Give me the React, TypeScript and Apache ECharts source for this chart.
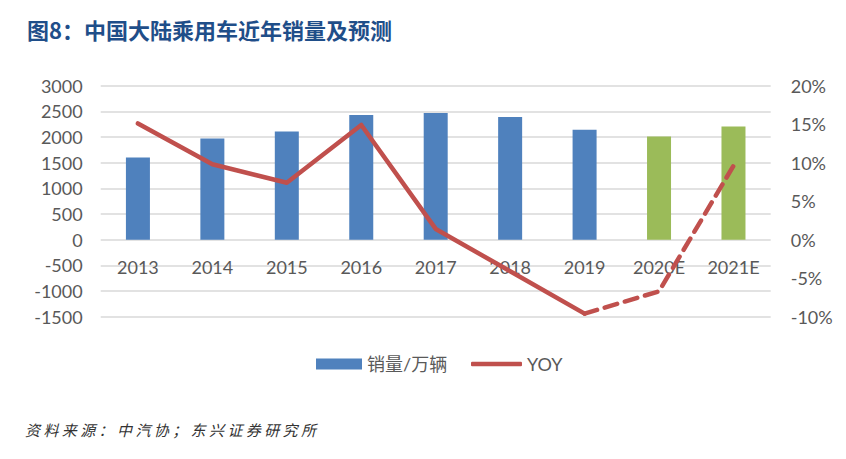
import React, { useEffect, useRef } from "react";
import * as echarts from "echarts";

const categories = ["2013", "2014", "2015", "2016", "2017", "2018", "2019", "2020E", "2021E"];
const sales = [1600, 1970, 2110, 2430, 2470, 2390, 2140, 2010, 2205];
const yoyActual = [15.1, 9.8, 7.4, 14.9, 1.4, -4.1, -9.6, null, null];
const yoyForecast = [null, null, null, null, null, null, -9.6, -6.7, 9.6];
const leftTicks = { min: -1500, max: 3000, interval: 500 };
const rightTicks = { min: -10, max: 20, interval: 5 };
const title = "图8：中国大陆乘用车近年销量及预测";
const source = "资料来源：中汽协；东兴证券研究所";

export default function App() {
  const ref = useRef<HTMLDivElement>(null);
  useEffect(() => {
    document.body.style.margin = "0";
    const chart = echarts.init(ref.current!, null, { renderer: "svg" });
    const textColor = "#595959";
    const font = "Lato, 'Noto Sans', sans-serif";
    const blue = "#4F81BD";
    const green = "#9BBB59";
    const red = "#C0504D";
    const sourceChars = source.split("").map((ch, i) => ({
      type: "text",
      left: 25 + i * 18.4,
      top: 422,
      style: {
        text: ch,
        fill: "#333",
        font: "italic 15px 'Noto Sans CJK SC'",
      },
    }));
    const legendText = { color: textColor, fontSize: 18, fontFamily: "Lato, 'Noto Sans CJK SC', sans-serif", lineHeight: 20 };
    chart.setOption({
      animation: false,
      backgroundColor: "#fff",
      title: {
        text: title,
        left: 22,
        top: 13,
        textStyle: {
          color: "#1F4E89",
          fontSize: 22,
          fontWeight: "bold",
          fontFamily: "'Noto Sans CJK SC', sans-serif",
        },
      },
      graphic: sourceChars,
      legend: [
        {
          left: 311,
          top: 349,
          itemWidth: 46,
          itemHeight: 11,
          itemGap: 6,
          textStyle: legendText,
          data: [{ name: "销量/万辆", icon: "rect", itemStyle: { color: blue } }],
        },
        {
          left: 466,
          top: 349,
          itemWidth: 51,
          itemHeight: 4.5,
          textStyle: legendText,
          data: [{ name: "YOY", icon: "roundRect", itemStyle: { color: red } }],
        },
      ],
      grid: { left: 100.7, right: 75.3, top: 85.7, bottom: 142.3 },
      xAxis: {
        type: "category",
        data: categories,
        axisLine: { show: false },
        axisTick: { show: false },
        axisLabel: { color: textColor, fontSize: 18, fontFamily: font, margin: -59 },
      },
      yAxis: [
        {
          type: "value",
          ...leftTicks,
          axisLine: { show: false },
          axisTick: { show: false },
          splitLine: { lineStyle: { color: "#D9D9D9", width: 1.5 } },
          axisLabel: { color: textColor, fontSize: 18, fontFamily: font, margin: 18, formatter: (v: number) => String(v) },
        },
        {
          type: "value",
          ...rightTicks,
          axisLine: { show: false },
          axisTick: { show: false },
          splitLine: { show: false },
          axisLabel: { color: textColor, fontSize: 18, fontFamily: font, margin: 20, formatter: "{value}%" },
        },
      ],
      series: [
        {
          name: "销量/万辆",
          type: "bar",
          data: sales,
          barWidth: 24,
          itemStyle: {
            color: (p: any) => (String(p.name).endsWith("E") ? green : blue),
          },
        },
        {
          name: "YOY",
          type: "line",
          yAxisIndex: 1,
          data: yoyActual,
          symbol: "none",
          itemStyle: { color: red },
          lineStyle: { color: red, width: 4.5, cap: "round", join: "round" },
          z: 3,
        },
        {
          name: "YOY预测",
          type: "line",
          yAxisIndex: 1,
          data: yoyForecast,
          symbol: "none",
          itemStyle: { color: red },
          lineStyle: { color: red, width: 4.5, type: [13, 8], cap: "round" },
          z: 3,
        },
      ],
    });
    return () => chart.dispose();
  }, []);
  return <div ref={ref} style={{ width: 846, height: 459 }} />;
}
